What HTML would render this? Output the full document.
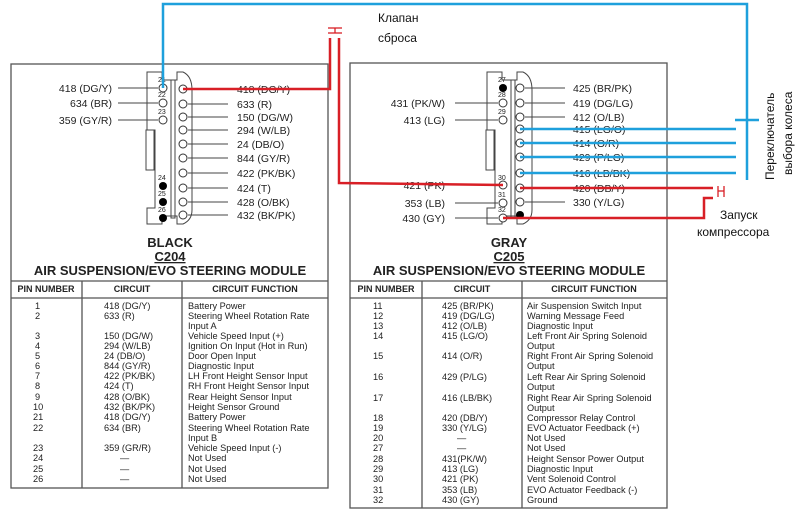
<!DOCTYPE html>
<html><head><meta charset="utf-8"><style>
html,body{margin:0;padding:0;background:#fff;}
svg{display:block;}
text{font-family:"Liberation Sans",sans-serif;fill:#222;}
.s{font-size:9.2px;}
.l{font-size:10.5px;}
.b{font-size:13px;font-weight:bold;}
.h{font-size:9px;font-weight:bold;}
.r{font-family:"Liberation Sans","Noto Sans CJK SC",sans-serif;font-size:12px;fill:#111;}
</style></head><body>
<svg width="800" height="515" viewBox="0 0 800 515" xmlns="http://www.w3.org/2000/svg">
<g fill="none" stroke="#555" stroke-width="1.3">
<rect x="11" y="64" width="317" height="424"/>
<line x1="11" y1="281" x2="328" y2="281"/>
<line x1="11" y1="298" x2="328" y2="298"/>
<line x1="82" y1="281" x2="82" y2="488"/>
<line x1="182" y1="281" x2="182" y2="488"/>
<rect x="350" y="63" width="317" height="445"/>
<line x1="350" y1="281" x2="667" y2="281"/>
<line x1="350" y1="298" x2="667" y2="298"/>
<line x1="422" y1="281" x2="422" y2="508"/>
<line x1="522" y1="281" x2="522" y2="508"/>
</g>
<g id="c1" fill="none" stroke="#444" stroke-width="1">
<path d="M147,72 L162,72 L162,80 L177,80 L177,72 L183,72 Q192,76 192,90 L192,210 Q192,220 183,224 L177,224 L177,216 L162,216 L162,224 L147,224 L147,208 L155,208 L155,130 L147,130 Z"/>
<rect x="146" y="130" width="8" height="40"/>
<rect x="171" y="80" width="4" height="138"/>
</g>
<use href="#c1" x="340"/>
<g fill="#fff" stroke="#333" stroke-width="1">
<circle cx="163" cy="88" r="4"/><circle cx="163" cy="103" r="4"/><circle cx="163" cy="120" r="4"/>
<circle cx="183" cy="89" r="4"/><circle cx="183" cy="104" r="4"/><circle cx="183" cy="117" r="4"/><circle cx="183" cy="130" r="4"/><circle cx="183" cy="144" r="4"/><circle cx="183" cy="158" r="4"/><circle cx="183" cy="173" r="4"/><circle cx="183" cy="188" r="4"/><circle cx="183" cy="202" r="4"/><circle cx="183" cy="215" r="4"/>
<circle cx="503" cy="103" r="4"/><circle cx="503" cy="120" r="4"/><circle cx="503" cy="185" r="4"/><circle cx="503" cy="203" r="4"/><circle cx="503" cy="218" r="4"/>
<circle cx="520" cy="88" r="4"/><circle cx="520" cy="103" r="4"/><circle cx="520" cy="117" r="4"/><circle cx="520" cy="129" r="4"/><circle cx="520" cy="143" r="4"/><circle cx="520" cy="157" r="4"/><circle cx="520" cy="173" r="4"/><circle cx="520" cy="188" r="4"/><circle cx="520" cy="202" r="4"/>
</g>
<g fill="#000"><circle cx="163" cy="186" r="4"/><circle cx="163" cy="202" r="4"/><circle cx="163" cy="218" r="4"/><circle cx="503" cy="88" r="4"/><circle cx="520" cy="215" r="4"/></g>
<g>
<text x="158" y="82" style="font-size:7px">21</text><text x="158" y="97" style="font-size:7px">22</text><text x="158" y="114" style="font-size:7px">23</text><text x="158" y="180" style="font-size:7px">24</text><text x="158" y="196" style="font-size:7px">25</text><text x="158" y="212" style="font-size:7px">26</text>
<text x="498" y="82" style="font-size:7px">27</text><text x="498" y="97" style="font-size:7px">28</text><text x="498" y="114" style="font-size:7px">29</text><text x="498" y="180" style="font-size:7px">30</text><text x="498" y="197" style="font-size:7px">31</text><text x="498" y="212" style="font-size:7px">32</text>
</g>
<g stroke="#444" stroke-width="1">
<line x1="118" y1="88" x2="158" y2="88"/><line x1="118" y1="103" x2="158" y2="103"/><line x1="118" y1="120" x2="158" y2="120"/>
<line x1="188" y1="104" x2="228" y2="104"/><line x1="188" y1="117" x2="228" y2="117"/><line x1="188" y1="130" x2="228" y2="130"/><line x1="188" y1="144" x2="228" y2="144"/><line x1="188" y1="158" x2="228" y2="158"/><line x1="188" y1="173" x2="228" y2="173"/><line x1="188" y1="188" x2="228" y2="188"/><line x1="188" y1="202" x2="228" y2="202"/><line x1="188" y1="215" x2="228" y2="215"/>
<line x1="455" y1="103" x2="498" y2="103"/><line x1="455" y1="120" x2="498" y2="120"/><line x1="455" y1="203" x2="498" y2="203"/><line x1="455" y1="218" x2="498" y2="218"/>
<line x1="525" y1="88" x2="565" y2="88"/><line x1="525" y1="103" x2="565" y2="103"/><line x1="525" y1="117" x2="565" y2="117"/><line x1="525" y1="202" x2="565" y2="202"/>
</g>
<g>
<text class="l" x="112" y="92" text-anchor="end">418  (DG/Y)</text>
<text class="l" x="112" y="107" text-anchor="end">634  (BR)</text>
<text class="l" x="112" y="124" text-anchor="end">359  (GY/R)</text>
<text class="l" x="237" y="93">418 (DG/Y)</text>
<text class="l" x="237" y="108">633  (R)</text>
<text class="l" x="237" y="121">150  (DG/W)</text>
<text class="l" x="237" y="134">294  (W/LB)</text>
<text class="l" x="237" y="148">24  (DB/O)</text>
<text class="l" x="237" y="162">844  (GY/R)</text>
<text class="l" x="237" y="177">422  (PK/BK)</text>
<text class="l" x="237" y="192">424  (T)</text>
<text class="l" x="237" y="206">428  (O/BK)</text>
<text class="l" x="237" y="219">432  (BK/PK)</text>
<text class="l" x="445" y="107" text-anchor="end">431  (PK/W)</text>
<text class="l" x="445" y="124" text-anchor="end">413  (LG)</text>
<text class="l" x="445" y="189" text-anchor="end">421  (PK)</text>
<text class="l" x="445" y="207" text-anchor="end">353  (LB)</text>
<text class="l" x="445" y="222" text-anchor="end">430  (GY)</text>
<text class="l" x="573" y="92">425  (BR/PK)</text>
<text class="l" x="573" y="107">419  (DG/LG)</text>
<text class="l" x="573" y="121">412  (O/LB)</text>
<text class="l" x="573" y="133">415  (LG/O)</text>
<text class="l" x="573" y="147">414  (O/R)</text>
<text class="l" x="573" y="161">429  (P/LG)</text>
<text class="l" x="573" y="177">416  (LB/BK)</text>
<text class="l" x="573" y="192">420  (DB/Y)</text>
<text class="l" x="573" y="206">330  (Y/LG)</text>
</g>
<text class="b" x="170" y="247" text-anchor="middle">BLACK</text>
<text class="b" x="170" y="261" text-anchor="middle" text-decoration="underline">C204</text>
<text class="b" x="170" y="275" text-anchor="middle">AIR  SUSPENSION/EVO  STEERING  MODULE</text>
<text class="b" x="509" y="247" text-anchor="middle">GRAY</text>
<text class="b" x="509" y="261" text-anchor="middle" text-decoration="underline">C205</text>
<text class="b" x="509" y="275" text-anchor="middle">AIR  SUSPENSION/EVO  STEERING  MODULE</text>
<text class="h" x="46" y="292" text-anchor="middle">PIN NUMBER</text>
<text class="h" x="132" y="292" text-anchor="middle">CIRCUIT</text>
<text class="h" x="255" y="292" text-anchor="middle">CIRCUIT  FUNCTION</text>
<text class="h" x="386" y="292" text-anchor="middle">PIN NUMBER</text>
<text class="h" x="472" y="292" text-anchor="middle">CIRCUIT</text>
<text class="h" x="594" y="292" text-anchor="middle">CIRCUIT  FUNCTION</text>
<g>
<text class="s" x="35" y="309">1</text><text class="s" x="104" y="309">418  (DG/Y)</text><text class="s" x="188" y="309">Battery  Power</text>
<text class="s" x="35" y="319">2</text><text class="s" x="104" y="319">633  (R)</text><text class="s" x="188" y="319">Steering Wheel Rotation Rate</text>
<text class="s" x="188" y="329">Input A</text>
<text class="s" x="35" y="339">3</text><text class="s" x="104" y="339">150  (DG/W)</text><text class="s" x="188" y="339">Vehicle Speed Input (+)</text>
<text class="s" x="35" y="349">4</text><text class="s" x="104" y="349">294  (W/LB)</text><text class="s" x="188" y="349">Ignition On Input (Hot in Run)</text>
<text class="s" x="35" y="359">5</text><text class="s" x="104" y="359">24  (DB/O)</text><text class="s" x="188" y="359">Door Open Input</text>
<text class="s" x="35" y="369">6</text><text class="s" x="104" y="369">844  (GY/R)</text><text class="s" x="188" y="369">Diagnostic Input</text>
<text class="s" x="35" y="379">7</text><text class="s" x="104" y="379">422  (PK/BK)</text><text class="s" x="188" y="379">LH Front Height Sensor Input</text>
<text class="s" x="35" y="389">8</text><text class="s" x="104" y="389">424  (T)</text><text class="s" x="188" y="389">RH Front Height Sensor Input</text>
<text class="s" x="35" y="400">9</text><text class="s" x="104" y="400">428  (O/BK)</text><text class="s" x="188" y="400">Rear Height Sensor Input</text>
<text class="s" x="33" y="410">10</text><text class="s" x="104" y="410">432  (BK/PK)</text><text class="s" x="188" y="410">Height Sensor Ground</text>
<text class="s" x="33" y="420">21</text><text class="s" x="104" y="420">418  (DG/Y)</text><text class="s" x="188" y="420">Battery Power</text>
<text class="s" x="33" y="431">22</text><text class="s" x="104" y="431">634  (BR)</text><text class="s" x="188" y="431">Steering Wheel Rotation Rate</text>
<text class="s" x="188" y="441">Input B</text>
<text class="s" x="33" y="451">23</text><text class="s" x="104" y="451">359  (GR/R)</text><text class="s" x="188" y="451">Vehicle Speed Input (-)</text>
<text class="s" x="33" y="461">24</text><text class="s" x="120" y="461">—</text><text class="s" x="188" y="461">Not Used</text>
<text class="s" x="33" y="472">25</text><text class="s" x="120" y="472">—</text><text class="s" x="188" y="472">Not Used</text>
<text class="s" x="33" y="482">26</text><text class="s" x="120" y="482">—</text><text class="s" x="188" y="482">Not Used</text>

<text class="s" x="373" y="309">11</text><text class="s" x="442" y="309">425  (BR/PK)</text><text class="s" x="527" y="309">Air Suspension Switch Input</text>
<text class="s" x="373" y="319">12</text><text class="s" x="442" y="319">419  (DG/LG)</text><text class="s" x="527" y="319">Warning Message Feed</text>
<text class="s" x="373" y="329">13</text><text class="s" x="442" y="329">412  (O/LB)</text><text class="s" x="527" y="329">Diagnostic Input</text>
<text class="s" x="373" y="339">14</text><text class="s" x="442" y="339">415  (LG/O)</text><text class="s" x="527" y="339">Left Front Air Spring Solenoid</text>
<text class="s" x="527" y="349">Output</text>
<text class="s" x="373" y="359">15</text><text class="s" x="442" y="359">414  (O/R)</text><text class="s" x="527" y="359">Right Front Air Spring Solenoid</text>
<text class="s" x="527" y="369">Output</text>
<text class="s" x="373" y="380">16</text><text class="s" x="442" y="380">429  (P/LG)</text><text class="s" x="527" y="380">Left Rear Air Spring Solenoid</text>
<text class="s" x="527" y="390">Output</text>
<text class="s" x="373" y="401">17</text><text class="s" x="442" y="401">416  (LB/BK)</text><text class="s" x="527" y="401">Right Rear Air Spring Solenoid</text>
<text class="s" x="527" y="411">Output</text>
<text class="s" x="373" y="421">18</text><text class="s" x="442" y="421">420  (DB/Y)</text><text class="s" x="527" y="421">Compressor Relay Control</text>
<text class="s" x="373" y="431">19</text><text class="s" x="442" y="431">330  (Y/LG)</text><text class="s" x="527" y="431">EVO Actuator Feedback (+)</text>
<text class="s" x="373" y="441">20</text><text class="s" x="457" y="441">—</text><text class="s" x="527" y="441">Not Used</text>
<text class="s" x="373" y="451">27</text><text class="s" x="457" y="451">—</text><text class="s" x="527" y="451">Not Used</text>
<text class="s" x="373" y="462">28</text><text class="s" x="442" y="462">431(PK/W)</text><text class="s" x="527" y="462">Height Sensor Power Output</text>
<text class="s" x="373" y="472">29</text><text class="s" x="442" y="472">413  (LG)</text><text class="s" x="527" y="472">Diagnostic Input</text>
<text class="s" x="373" y="482">30</text><text class="s" x="442" y="482">421  (PK)</text><text class="s" x="527" y="482">Vent Solenoid Control</text>
<text class="s" x="373" y="493">31</text><text class="s" x="442" y="493">353  (LB)</text><text class="s" x="527" y="493">EVO Actuator Feedback (-)</text>
<text class="s" x="373" y="503">32</text><text class="s" x="442" y="503">430  (GY)</text><text class="s" x="527" y="503">Ground</text>
</g>
<g stroke="#1ea0dc" stroke-width="2.5" fill="none">
<polyline points="163,88 163,4 747,4 747,180"/>
<line x1="735" y1="120" x2="759" y2="120"/>
<line x1="520" y1="129" x2="736" y2="129"/>
<line x1="520" y1="143" x2="736" y2="143"/>
<line x1="520" y1="157" x2="736" y2="157"/>
<line x1="520" y1="173" x2="736" y2="173"/>
</g>
<g stroke="#d81f26" stroke-width="2.5" fill="none">
<polyline points="183,89 330,89 330,38"/>
<polyline points="339,38 339,183 503,185"/>
<line x1="520" y1="188" x2="713" y2="188"/>
<polyline points="503,218 704,218 704,198 713,198"/>
</g>
<g stroke="#d81f26" stroke-width="1.3" fill="none">
<line x1="328" y1="28" x2="342" y2="28"/><line x1="335" y1="28" x2="335" y2="33"/><line x1="328" y1="33" x2="342" y2="33"/>
<line x1="718" y1="186" x2="718" y2="197"/><line x1="724" y1="186" x2="724" y2="197"/><line x1="718" y1="191" x2="724" y2="191"/>
</g>
<text class="r" x="378" y="22">Клапан</text>
<text class="r" x="378" y="42">сброса</text>
<text class="r" x="720" y="219">Запуск</text>
<text class="r" x="697" y="236">компрессора</text>
<text class="r" transform="translate(774,180) rotate(-90)">Переключатель</text>
<text class="r" transform="translate(792,175) rotate(-90)">выбора колеса</text>
</svg>
</body></html>
